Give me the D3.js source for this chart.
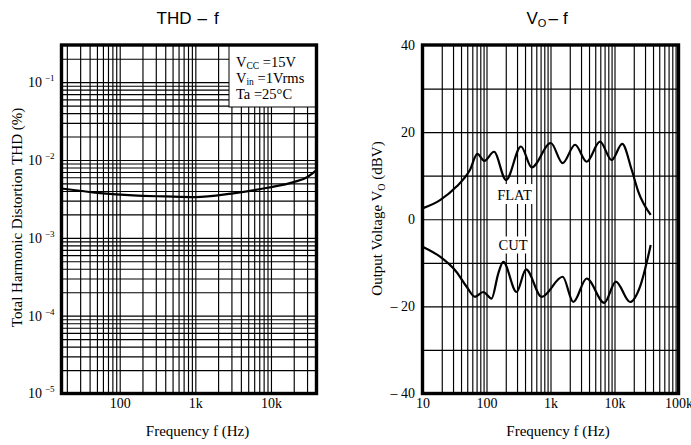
<!DOCTYPE html>
<html>
<head>
<meta charset="utf-8">
<script src="https://cdnjs.cloudflare.com/ajax/libs/d3/7.8.5/d3.min.js"></script>
<style>
  body { margin: 0; background: #fff; }
  svg { display: block; }
  .serif { font-family: "Liberation Serif", "Times New Roman", serif; }
  .sans { font-family: "Liberation Sans", Arial, sans-serif; }
  .grid line { stroke: #000; stroke-width: 1.15; }
  .grid path { display: none; }
  .ticks path { display: none; }
  .ticks text { font-family: "Liberation Serif", "Times New Roman", serif; font-size: 14px; fill: #000; }
</style>
</head>
<body>
<script>
// THD - f data
var thdFreq = [17, 55, 150, 400, 1000, 3000, 9000, 20000, 30000, 40000];
var thdValue = [0.0043, 0.00375, 0.0035, 0.0034, 0.00333, 0.0037, 0.0044, 0.0052, 0.006, 0.0074];

// VO - f data, FLAT and CUT curves
var flatFreq = [10, 18.8, 34, 55, 72, 92.5, 131, 202, 346, 508, 1010, 1550, 2420, 3680, 5930, 9030, 13200, 18600, 23600, 36800];
var flatDbv = [2.5, 4.4, 7.5, 11.3, 15.0, 13.4, 15.5, 9.0, 16.7, 11.9, 17.5, 12.9, 17.1, 13.2, 17.8, 13.6, 17.3, 11.3, 6.3, 1.0];
var cutFreq = [10, 18.8, 34, 49, 66, 89, 120, 153, 183, 295, 414, 728, 1550, 2270, 3680, 6930, 10500, 17500, 25000, 36800];
var cutDbv = [-6.3, -8.6, -12.1, -15.5, -17.8, -16.7, -18.2, -12.4, -9.8, -16.7, -11.5, -17.8, -13.2, -19.0, -13.6, -19.2, -14.3, -19.0, -15.5, -5.9];

// tick labels
var thdTicks = [1e-5, 1e-4, 1e-3, 1e-2, 1e-1];
var thdExp = ["\u22125", "\u22124", "\u22123", "\u22122", "\u22121"];
var thdFreqTicks = [100, 1000, 10000];
var thdFreqLabels = ["100", "1k", "10k"];
var voFreqTicks = [10, 100, 1000, 10000, 100000];
var voFreqLabels = ["10", "100", "1k", "10k", "100k"];
var dbvTicks = [-40, -20, 0, 20, 40];
var dbvLabels = ["\u2013 40", "\u2013 20", "0", "20", "40"];

var svgWidth = 691;
var svgHeight = 445;

var svg = d3.select("body")
  .append("svg")
  .attr("width", svgWidth)
  .attr("height", svgHeight);

// plot frames
var thdBox = { left: 61.5, right: 316.5, top: 45, bottom: 393.5 };
var voBox = { left: 422.5, right: 678.5, top: 45, bottom: 393.5 };

// scales
var xThd = d3.scaleLog().domain([17, 40000]).range([thdBox.left, thdBox.right]);
var yThd = d3.scaleLog().domain([1e-5, 0.3]).range([thdBox.bottom, thdBox.top]);
var xVo = d3.scaleLog().domain([10, 100000]).range([voBox.left, voBox.right]);
var yVo = d3.scaleLinear().domain([-40, 40]).range([voBox.bottom, voBox.top]);

function inner(scale) {
  var d = scale.domain();
  return scale.ticks().filter(function(v) { return v > d[0] * 1.001 && v < d[1] * 0.999; });
}

function drawGrid(x, y, box, yVals) {
  var h = box.bottom - box.top;
  var w = box.right - box.left;
  svg.append("g")
    .attr("class", "grid")
    .attr("transform", `translate(0, ${box.bottom})`)
    .call(d3.axisBottom(x).tickValues(inner(x)).tickSizeInner(-h).tickSizeOuter(0).tickFormat(""));
  svg.append("g")
    .attr("class", "grid")
    .attr("transform", `translate(${box.left}, 0)`)
    .call(d3.axisLeft(y).tickValues(yVals).tickSizeInner(-w).tickSizeOuter(0).tickFormat(""));
}

function drawFrame(box) {
  svg.append("rect")
    .attr("x", box.left)
    .attr("y", box.top)
    .attr("width", box.right - box.left)
    .attr("height", box.bottom - box.top)
    .attr("fill", "none")
    .attr("stroke", "#000")
    .attr("stroke-width", 3.4);
}

// ---------- THD - f ----------
drawGrid(xThd, yThd, thdBox, inner(yThd));

// conditions box
svg.append("rect")
  .attr("x", 229)
  .attr("y", thdBox.top)
  .attr("width", thdBox.right - 229)
  .attr("height", 107 - thdBox.top)
  .attr("fill", "#fff")
  .attr("stroke", "#000")
  .attr("stroke-width", 1);

var condLines = [
  [["V", 0], ["CC", 1], [" =15V", 0]],
  [["V", 0], ["in", 1], [" =1Vrms", 0]],
  [["Ta =25\u00b0C", 0]]
];
condLines.forEach(function(parts, i) {
  var t = svg.append("text")
    .attr("class", "serif")
    .attr("x", 236)
    .attr("y", 66.5 + i * 16.2)
    .attr("font-size", 14.5);
  var shifted = false;
  parts.forEach(function(p) {
    var s = t.append("tspan").text(p[0]);
    if (p[1]) { s.attr("font-size", 9.5).attr("dy", 2); shifted = true; }
    else if (shifted) { s.attr("dy", -2); shifted = false; }
  });
});

var thdLine = d3.line()
  .x(function(d, i) { return xThd(thdFreq[i]); })
  .y(function(d) { return yThd(d); })
  .curve(d3.curveMonotoneX);

svg.append("path")
  .datum(thdValue)
  .attr("d", thdLine)
  .attr("fill", "none")
  .attr("stroke", "#000")
  .attr("stroke-width", 2.2);

drawFrame(thdBox);

// tick labels
svg.append("g")
  .attr("class", "ticks")
  .attr("transform", `translate(0, ${thdBox.bottom})`)
  .call(d3.axisBottom(xThd).tickValues(thdFreqTicks).tickSize(0).tickPadding(4.5)
    .tickFormat(function(d, i) { return thdFreqLabels[i]; }));

var yAxisThd = svg.append("g")
  .attr("class", "ticks")
  .attr("transform", `translate(${thdBox.left - 7}, 0)`)
  .call(d3.axisLeft(yThd).tickValues(thdTicks).tickSize(0).tickPadding(0).tickFormat(""));

yAxisThd.selectAll(".tick text").each(function(d, i) {
  var t = d3.select(this);
  t.append("tspan").text("10");
  t.append("tspan").attr("dx", 3).attr("dy", -6).attr("font-size", 9).text(thdExp[i]);
});

// titles and axis names
svg.append("text")
  .attr("class", "sans")
  .attr("x", 156.5)
  .attr("y", 24)
  .attr("font-size", 17)
  .call(function(t) {
    t.append("tspan").text("THD");
    t.append("tspan").attr("dx", 6).text("\u2013");
    t.append("tspan").attr("dx", 7).text("f");
  });

svg.append("text")
  .attr("class", "serif")
  .attr("font-size", 15)
  .attr("text-anchor", "middle")
  .attr("transform", "translate(22, 217.5) rotate(-90)")
  .text("Total Harmonic Distortion THD (%)");

svg.append("text")
  .attr("class", "serif")
  .attr("font-size", 15)
  .attr("text-anchor", "middle")
  .attr("x", 197.5)
  .attr("y", 436)
  .text("Frequency f (Hz)");

// ---------- VO - f ----------
drawGrid(xVo, yVo, voBox, d3.range(-30, 40, 10));

// curve name labels with white background
var curveNames = [
  { name: "FLAT", x: 514.5, y: 200, w: 40, h: 20 },
  { name: "CUT", x: 513, y: 249.5, w: 35, h: 17 }
];
curveNames.forEach(function(c) {
  svg.append("rect")
    .attr("x", c.x - c.w / 2)
    .attr("y", c.y - c.h + 4)
    .attr("width", c.w)
    .attr("height", c.h)
    .attr("fill", "#fff");
  svg.append("text")
    .attr("class", "serif")
    .attr("font-size", 14.5)
    .attr("text-anchor", "middle")
    .attr("x", c.x)
    .attr("y", c.y)
    .text(c.name);
});

function voLine(freqs) {
  return d3.line()
    .x(function(d, i) { return xVo(freqs[i]); })
    .y(function(d) { return yVo(d); })
    .curve(d3.curveMonotoneX);
}

svg.append("path")
  .datum(flatDbv)
  .attr("d", voLine(flatFreq))
  .attr("fill", "none")
  .attr("stroke", "#000")
  .attr("stroke-width", 2.2);

svg.append("path")
  .datum(cutDbv)
  .attr("d", voLine(cutFreq))
  .attr("fill", "none")
  .attr("stroke", "#000")
  .attr("stroke-width", 2.2);

drawFrame(voBox);

svg.append("g")
  .attr("class", "ticks")
  .attr("transform", `translate(0, ${voBox.bottom})`)
  .call(d3.axisBottom(xVo).tickValues(voFreqTicks).tickSize(0).tickPadding(4.5)
    .tickFormat(function(d, i) { return voFreqLabels[i]; }));

svg.append("g")
  .attr("class", "ticks")
  .attr("transform", `translate(${voBox.left - 7.5}, 0)`)
  .call(d3.axisLeft(yVo).tickValues(dbvTicks).tickSize(0).tickPadding(0)
    .tickFormat(function(d, i) { return dbvLabels[i]; }));

svg.append("text")
  .attr("class", "sans")
  .attr("x", 526.5)
  .attr("y", 24)
  .attr("font-size", 17)
  .call(function(t) {
    t.append("tspan").text("V");
    t.append("tspan").attr("font-size", 11).attr("dy", 3).text("O");
    t.append("tspan").attr("dy", -3).attr("dx", 2).text("\u2013");
    t.append("tspan").attr("dx", 5).text("f");
  });

svg.append("text")
  .attr("class", "serif")
  .attr("font-size", 15)
  .attr("text-anchor", "middle")
  .attr("transform", "translate(382, 218.5) rotate(-90)")
  .call(function(t) {
    t.append("tspan").text("Output Voltage V");
    t.append("tspan").attr("font-size", 10).attr("dy", 3).text("O");
    t.append("tspan").attr("dy", -3).text(" (dBV)");
  });

svg.append("text")
  .attr("class", "serif")
  .attr("font-size", 15)
  .attr("text-anchor", "middle")
  .attr("x", 558)
  .attr("y", 436)
  .text("Frequency f (Hz)");
</script>
</body>
</html>
